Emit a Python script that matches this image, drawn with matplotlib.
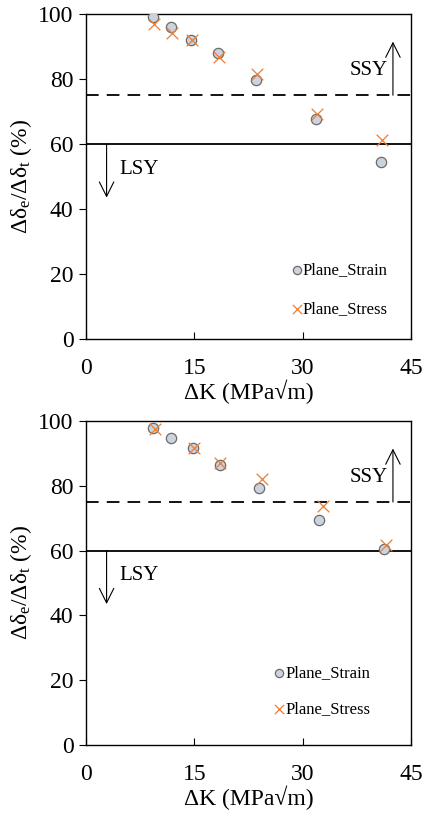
import matplotlib
matplotlib.use("Agg")
import matplotlib.pyplot as plt

plt.rcParams['font.family'] = ['Liberation Serif', 'DejaVu Serif']
plt.rcParams['mathtext.fontset'] = 'custom'
plt.rcParams['mathtext.rm'] = 'Liberation Serif'
plt.rcParams['mathtext.it'] = 'Liberation Serif:italic'

# Top panel data
top_strain_x = [9.3, 11.8, 14.6, 18.3, 23.6, 31.9, 40.8]
top_strain_y = [99.1, 95.9, 92.0, 87.9, 79.8, 67.7, 54.6]
top_stress_x = [9.4, 11.9, 14.7, 18.4, 23.7, 32.0, 41.0]
top_stress_y = [96.9, 94.1, 92.0, 86.8, 81.6, 69.3, 61.3]

# Bottom panel data
bot_strain_x = [9.3, 11.8, 14.8, 18.5, 23.9, 32.3, 41.3]
bot_strain_y = [97.7, 94.7, 91.6, 86.4, 79.4, 69.5, 60.4]
bot_stress_x = [9.5, 14.9, 18.6, 24.3, 32.8, 41.6]
bot_stress_y = [97.5, 91.6, 87.1, 82.0, 73.8, 61.7]

xticks = [0, 15, 30, 45]
yticks = [0, 20, 40, 60, 80, 100]
ssy_level = 75
lsy_level = 60

W, H = 425, 814
fig = plt.figure(figsize=(W / 100, H / 100), dpi=100)

def make_ax(top_px, bottom_px, sx, sy, tx, ty, leg_anchor, spacing):
    ax = fig.add_axes([86 / W, 1 - bottom_px / H, 325 / W, (bottom_px - top_px) / H])
    ax.scatter(sx, sy, s=55, marker='o', facecolor='#cdd3de', edgecolor='#6b6b6b',
               linewidths=0.9, zorder=3, label='Plane_Strain')
    ax.scatter(tx, ty, s=70, marker='x', color='#ED7D31', linewidths=0.9,
               zorder=4, label='Plane_Stress')
    ax.axhline(ssy_level, color='black', lw=1.3, ls=(0, (7, 4.5)), zorder=2)
    ax.axhline(lsy_level, color='black', lw=1.3, zorder=2)
    ax.annotate('', xy=(42.5, 91.5), xytext=(42.5, ssy_level),
                arrowprops=dict(arrowstyle='->', color='black', lw=0.8,
                                mutation_scale=26, shrinkA=0, shrinkB=0))
    ax.annotate('', xy=(2.85, 43.5), xytext=(2.85, lsy_level),
                arrowprops=dict(arrowstyle='->', color='black', lw=0.8,
                                mutation_scale=26, shrinkA=0, shrinkB=0))
    ax.text(41.8, 82.5, 'SSY', fontsize=15, ha='right', va='center')
    ax.text(4.6, 52.3, 'LSY', fontsize=15, ha='left', va='center')
    ax.set_xlim(0, 45)
    ax.set_ylim(0, 100)
    ax.set_xticks(xticks)
    ax.set_yticks(yticks)
    ax.tick_params(axis='x', direction='in', length=5, labelsize=17, pad=14)
    ax.tick_params(axis='y', direction='out', length=5, labelsize=17, pad=4)
    for sp in ax.spines.values():
        sp.set_linewidth(1.0)
    ax.set_xlabel('ΔK (MPa√m)', fontsize=17, labelpad=0)
    ax.set_ylabel(r'Δδ$_\mathrm{e}$/Δδ$_\mathrm{t}$ (%)', fontsize=17, labelpad=3)
    ax.legend(loc='lower right', bbox_to_anchor=leg_anchor, frameon=False,
              fontsize=12, handletextpad=-0.25, labelspacing=spacing,
              handlelength=1.2, markerscale=0.8, borderaxespad=0.3)
    return ax

make_ax(14, 339, top_strain_x, top_strain_y, top_stress_x, top_stress_y, (0.965, 0.03), 1.4)
make_ax(421, 745, bot_strain_x, bot_strain_y, bot_stress_x, bot_stress_y, (0.91, 0.05), 1.2)

fig.savefig('out.png', dpi=100)
